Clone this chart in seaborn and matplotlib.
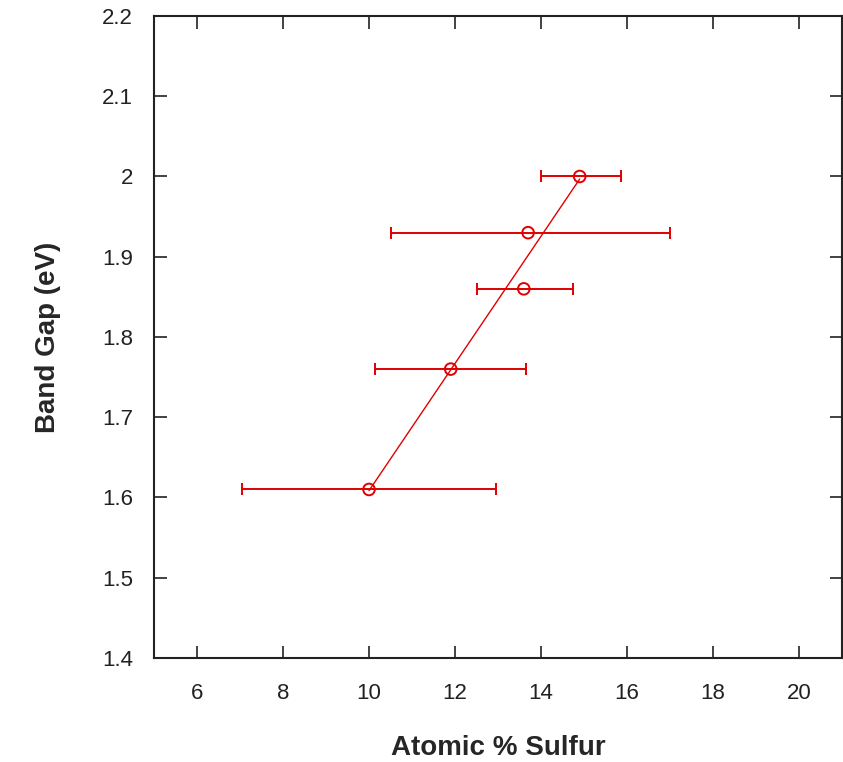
import numpy as np
import pandas as pd
import matplotlib
matplotlib.use("Agg")
import matplotlib.pyplot as plt
import seaborn as sns

# values
sulfur = [10.0, 11.9, 13.6, 13.7, 14.9]
band_gap = [1.61, 1.76, 1.86, 1.93, 2.00]
sulfur_lo = [7.05, 10.15, 12.5, 10.5, 14.0]
sulfur_hi = [12.95, 13.65, 14.75, 17.0, 15.85]

x_ticks = [6, 8, 10, 12, 14, 16, 18, 20]
y_ticks = [1.4, 1.5, 1.6, 1.7, 1.8, 1.9, 2.0, 2.1, 2.2]
y_tick_labels = ["1.4", "1.5", "1.6", "1.7", "1.8", "1.9", "2", "2.1", "2.2"]

RED = "#e00000"

sns.set_style("ticks")
plt.rcParams["font.family"] = ["Liberation Sans", "DejaVu Sans"]

df = pd.DataFrame({"sulfur": sulfur, "band_gap": band_gap,
                   "lo": sulfur_lo, "hi": sulfur_hi})
xerr = np.vstack([df["sulfur"] - df["lo"], df["hi"] - df["sulfur"]])

fig = plt.figure(figsize=(8.43, 7.62), dpi=100)
ax = fig.add_axes([0.1827, 0.1365, 0.8161, 0.8425])

# linear fit line over the data range
sns.regplot(data=df, x="sulfur", y="band_gap", ax=ax, scatter=False, ci=None,
            truncate=True, line_kws={"color": RED, "lw": 1.0})

ax.errorbar(df["sulfur"], df["band_gap"], xerr=xerr, fmt="none",
            ecolor=RED, elinewidth=1.4, capsize=4.5, capthick=1.4)
sns.scatterplot(data=df, x="sulfur", y="band_gap", ax=ax, marker="o",
                s=70, facecolor="none", edgecolor=RED, linewidth=1.4, zorder=5)

ax.set_xlim(5, 21)
ax.set_ylim(1.4, 2.2)
ax.set_xticks(x_ticks)
ax.set_yticks(y_ticks)
ax.set_yticklabels(y_tick_labels)

for side in ["left", "right", "top", "bottom"]:
    ax.spines[side].set_visible(True)
    ax.spines[side].set_linewidth(1.5)
    ax.spines[side].set_color("#222222")

ax.tick_params(axis="both", direction="in", length=9, width=1.2,
               top=True, right=True, labelsize=16, colors="#222222")
ax.tick_params(axis="x", pad=18)
ax.tick_params(axis="y", pad=15)

ax.set_xlabel("Atomic % Sulfur", fontsize=20, fontweight="bold", labelpad=22)
ax.set_ylabel("Band Gap (eV)", fontsize=20, fontweight="bold", labelpad=30)

fig.savefig("out.png", dpi=100)
